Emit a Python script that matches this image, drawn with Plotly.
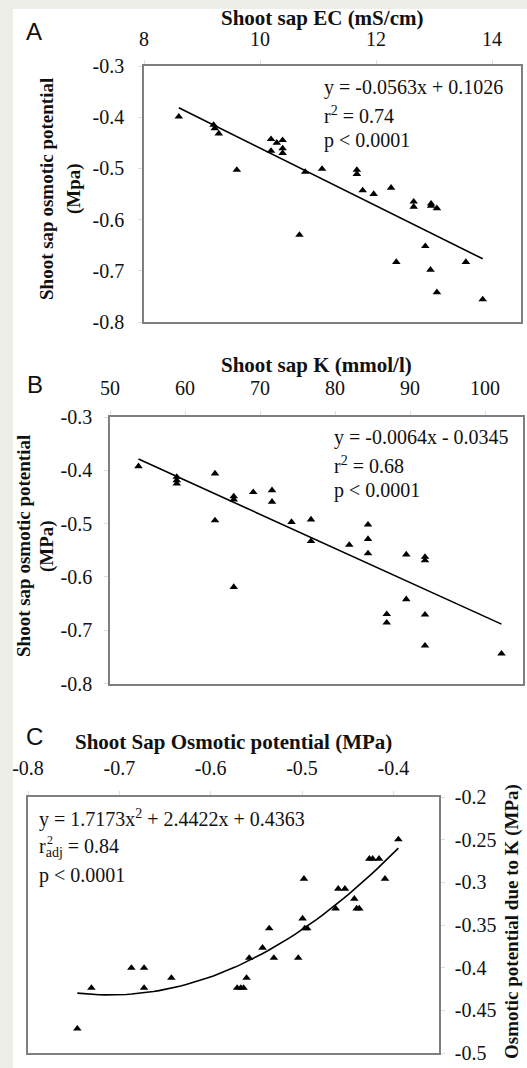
import numpy as np
import plotly.graph_objects as go

W, H = 527, 1068

# ---------- Panel A data: Shoot sap EC vs osmotic potential ----------
a_ec = [8.60, 9.20, 9.22, 9.29, 10.19, 10.19, 10.29, 10.39, 10.39, 10.39, 9.60, 10.78,
        11.07, 11.67, 11.67, 11.77, 11.96, 12.26, 12.65, 12.65, 12.95, 12.95, 13.05,
        10.68, 12.85, 12.35, 12.94, 13.05, 13.55, 13.84]
a_osm = [-0.399, -0.415, -0.422, -0.432, -0.443, -0.466, -0.450, -0.445, -0.461, -0.470,
         -0.503, -0.507, -0.501, -0.503, -0.511, -0.543, -0.550, -0.538, -0.565, -0.575,
         -0.569, -0.573, -0.578, -0.630, -0.652, -0.683, -0.698, -0.742, -0.683, -0.756]
a_slope, a_icpt = -0.0563, 0.1026

# ---------- Panel B data: Shoot sap K vs osmotic potential ----------
b_k = [53.8, 58.9, 58.9, 58.9, 64.0, 64.0, 66.5, 66.5, 66.5, 69.1, 71.6, 71.6, 74.2,
       76.8, 76.8, 81.9, 84.4, 84.4, 84.4, 89.5, 89.5, 86.9, 86.9, 92.0, 92.0, 92.0,
       92.0, 102.2]
b_osm = [-0.3925, -0.4125, -0.419, -0.425, -0.406, -0.494, -0.449, -0.455, -0.619,
         -0.441, -0.4375, -0.459, -0.497, -0.4925, -0.533, -0.540, -0.502, -0.529,
         -0.556, -0.558, -0.642, -0.670, -0.686, -0.5625, -0.569, -0.671, -0.729, -0.744]
b_slope, b_icpt = -0.0064, -0.0345

# ---------- Panel C data: shoot sap osmotic potential vs osmotic potential due to K ----------
c_osm = [-0.746, -0.7306, -0.6868, -0.6729, -0.6729, -0.643, -0.571, -0.567, -0.564,
         -0.5607, -0.5578, -0.5432, -0.5359, -0.5308, -0.5041, -0.4994, -0.4979, -0.497,
         -0.4943, -0.4632, -0.4603, -0.453, -0.4427, -0.4402, -0.4373, -0.4263, -0.4227,
         -0.4157, -0.4091, -0.3945]
c_k = [-0.4715, -0.4238, -0.4003, -0.4003, -0.4238, -0.412, -0.4238, -0.4238, -0.4238,
       -0.412, -0.3886, -0.3768, -0.354, -0.3886, -0.3886, -0.3424, -0.2959, -0.354,
       -0.354, -0.3307, -0.3076, -0.3076, -0.3193, -0.3307, -0.3307, -0.2724, -0.2724,
       -0.2724, -0.2959, -0.2497]
c_a2, c_a1, c_a0 = 1.7173, 2.4422, 0.4363

# ---------- tick labels ----------
a_xticks = [8, 10, 12, 14]
ab_yticks = [-0.3, -0.4, -0.5, -0.6, -0.7, -0.8]
ab_ylabels = ["-0.3", "-0.4", "-0.5", "-0.6", "-0.7", "-0.8"]
b_xticks = [50, 60, 70, 80, 90, 100]
c_xticks = [-0.8, -0.7, -0.6, -0.5, -0.4]
c_xlabels = ["-0.8", "-0.7", "-0.6", "-0.5", "-0.4"]
c_yticks = [-0.2, -0.25, -0.3, -0.35, -0.4, -0.45, -0.5]
c_ylabels = ["-0.2", "-0.25", "-0.3", "-0.35", "-0.4", "-0.45", "-0.5"]

SERIF = "Liberation Serif, Times New Roman, serif"
SANS = "Liberation Sans, Arial, sans-serif"
TICKF = dict(family=SERIF, size=20, color="#111")
BOX = "#7f7f7f"
BG = "#eeeee8"


def px(x):
    return x / W


def py(y):
    return 1 - y / H


fig = go.Figure()
mk = dict(symbol="triangle-up", size=7.5, color="black")

# Panel A
fig.add_trace(go.Scatter(x=a_ec, y=a_osm, mode="markers", marker=mk, xaxis="x", yaxis="y"))
ax = [min(a_ec), max(a_ec)]
fig.add_trace(go.Scatter(x=ax, y=[a_slope * v + a_icpt for v in ax], mode="lines",
                         line=dict(color="black", width=1.6), xaxis="x", yaxis="y"))
# Panel B
fig.add_trace(go.Scatter(x=b_k, y=b_osm, mode="markers", marker=mk, xaxis="x2", yaxis="y2"))
bx = [min(b_k), max(b_k)]
fig.add_trace(go.Scatter(x=bx, y=[b_slope * v + b_icpt for v in bx], mode="lines",
                         line=dict(color="black", width=1.6), xaxis="x2", yaxis="y2"))
# Panel C
fig.add_trace(go.Scatter(x=c_osm, y=c_k, mode="markers", marker=mk, xaxis="x3", yaxis="y3"))
cx = np.linspace(min(c_osm), max(c_osm), 60)
fig.add_trace(go.Scatter(x=cx, y=c_a2 * cx ** 2 + c_a1 * cx + c_a0, mode="lines",
                         line=dict(color="black", width=1.6), xaxis="x3", yaxis="y3"))

common = dict(showline=True, linecolor=BOX, linewidth=1.5, mirror=True, showgrid=False,
              zeroline=False, tickfont=TICKF, ticks="outside", ticklen=4,
              tickcolor="#dddddd", fixedrange=True, automargin=False)

layout = dict(
    width=W, height=H, autosize=False,
    margin=dict(l=0, r=0, t=0, b=0, pad=0, autoexpand=False), showlegend=False,
    paper_bgcolor=BG, plot_bgcolor="white",
    xaxis=dict(domain=[px(144), px(521)], range=[8, 14.5], side="top", anchor="y",
               tickvals=a_xticks, ticklabelstandoff=6, **common),
    yaxis=dict(domain=[py(322), py(66)], range=[-0.8, -0.3], anchor="x",
               tickvals=ab_yticks, ticktext=ab_ylabels, ticklabelstandoff=10, **common),
    xaxis2=dict(domain=[px(110), px(522.5)], range=[50, 105], side="top", anchor="y2",
                tickvals=b_xticks, ticklabelstandoff=8, **common),
    yaxis2=dict(domain=[py(683.5), py(417)], range=[-0.8, -0.3], anchor="x2",
                tickvals=ab_yticks, ticktext=ab_ylabels, ticklabelstandoff=8, **common),
    xaxis3=dict(domain=[px(28), px(439)], range=[-0.8, -0.35], side="top", anchor="y3",
                tickvals=c_xticks, ticktext=c_xlabels, ticklabelstandoff=8, **common),
    yaxis3=dict(domain=[py(1053), py(797)], range=[-0.5, -0.2], anchor="x3", side="right",
                tickvals=c_yticks, ticktext=c_ylabels, ticklabelstandoff=6, **common),
)
fig.update_layout(**layout)

fig.add_shape(type="rect", xref="paper", yref="paper", x0=px(13), x1=1.01, y0=-0.01,
              y1=py(9), fillcolor="white", line=dict(width=0), layer="below")

ann = []


def text(x, y, s, size=20, family=SERIF, bold=False, xanchor="left", angle=0):
    if bold:
        s = "<b>" + s + "</b>"
    ann.append(dict(x=px(x), y=py(y), xref="paper", yref="paper", text=s, showarrow=False,
                    xanchor=xanchor, yanchor="middle", textangle=angle,
                    font=dict(family=family, size=size, color="#111")))


# panel letters
text(34, 31, "A", 24, SANS, xanchor="center")
text(35, 385, "B", 24, SANS, xanchor="center")
text(34, 736, "C", 24, SANS, xanchor="center")

# axis titles
text(322, 18, "Shoot sap EC (mS/cm)", 21, bold=True, xanchor="center")
text(316, 365, "Shoot sap K (mmol/l)", 21, bold=True, xanchor="center")
text(233, 742, "Shoot Sap Osmotic potential (MPa)", 21, bold=True, xanchor="center")
text(47, 189, "Shoot sap osmotic potential", 19, bold=True, xanchor="center", angle=-90)
text(74, 189, "(Mpa)", 19, bold=True, xanchor="center", angle=-90)
text(23, 546, "Shoot sap osmotic potential", 19, bold=True, xanchor="center", angle=-90)
text(47, 546, "(MPa)", 19, bold=True, xanchor="center", angle=-90)
text(512, 922, "Osmotic potential due to K (MPa)", 19, bold=True, xanchor="center", angle=-90)

# equations
text(322, 87, "y = -0.0563x + 0.1026")
text(322, 115, "r<sup>2</sup> = 0.74")
text(322, 140, "p < 0.0001")
text(332, 437, "y = -0.0064x - 0.0345")
text(332, 465, "r<sup>2</sup> = 0.68")
text(332, 490, "p < 0.0001")
text(37, 818, "y = 1.7173x<sup>2</sup> + 2.4422x + 0.4363")
text(37, 847, "r<sub>adj</sub> = 0.84")
text(45, 840, "2", 12)
text(37, 875, "p < 0.0001")

fig.update_layout(annotations=ann)
fig.write_html(
    "out.html", include_plotlyjs=True, config={"displayModeBar": False},
    post_script="document.body.style.margin='0';document.body.style.background='%s';" % BG,
)
